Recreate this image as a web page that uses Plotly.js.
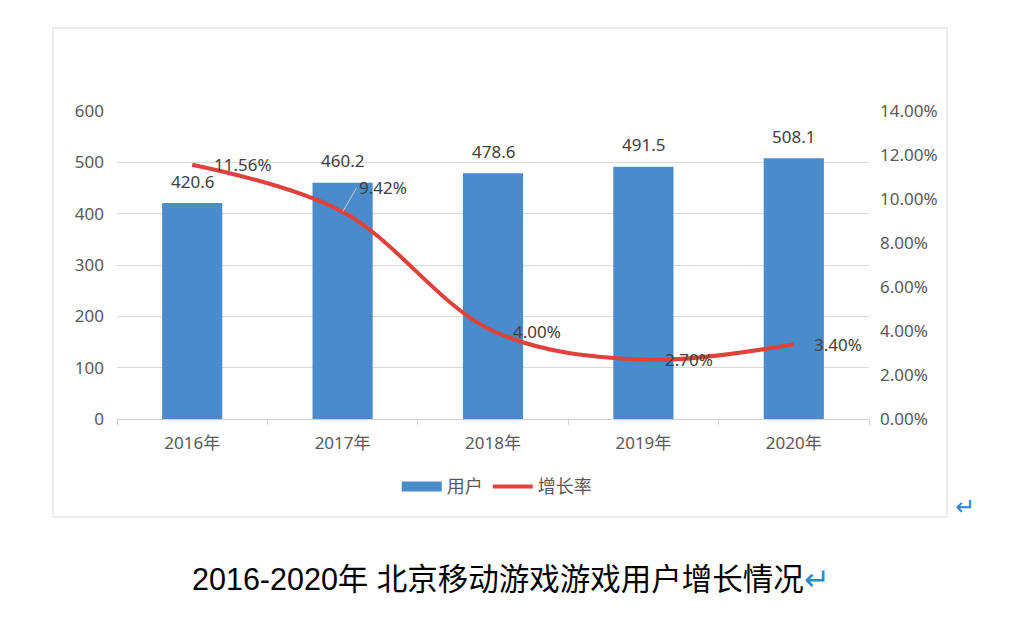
<!DOCTYPE html>
<html>
<head>
<meta charset="utf-8">
<script src="https://cdn.plot.ly/plotly-3.0.1.min.js"></script>
<style>
  body { margin: 0; background: #ffffff; }
  #chart { width: 1010px; height: 618px; }
</style>
</head>
<body>
<div id="chart"></div>
<script>
// 2016-2020 北京移动游戏用户 (百万) 及增长率
const years = ['2016年', '2017年', '2018年', '2019年', '2020年'];
const users = [420.6, 460.2, 478.6, 491.5, 508.1];
const growth = [11.56, 9.42, 4.00, 2.70, 3.40];
const growthLabels = ['11.56%', '9.42%', '4.00%', '2.70%', '3.40%'];
const userLabels = ['420.6', '460.2', '478.6', '491.5', '508.1'];

const barColor = '#4a8bcb';
const lineColor = '#e0413b';
const tickFont = { family: 'Noto Sans, Noto Sans CJK SC, sans-serif', size: 17, color: '#595959' };
const labelFont = { family: 'Noto Sans, sans-serif', size: 17, color: '#404040' };

const barTrace = {
    x: years,
    y: users,
    type: 'bar',
    name: '用户',
    width: 0.4,
    marker: { color: barColor },
    showlegend: false,
    hoverinfo: 'skip'
};

// legend-only entry so the swatch is a wide block like the original
const barLegend = {
    x: [years[0]],
    y: [null],
    type: 'scatter',
    mode: 'lines',
    name: '用户',
    line: { color: barColor, width: 12 },
    hoverinfo: 'skip'
};

const lineTrace = {
    x: years,
    y: growth,
    yaxis: 'y2',
    type: 'scatter',
    mode: 'lines',
    name: '增长率',
    line: { color: lineColor, width: 4, shape: 'spline', smoothing: 1 },
    hoverinfo: 'skip'
};

// value labels above bars
const annotations = years.map((yr, i) => ({
    x: yr, y: users[i], xref: 'x', yref: 'y',
    text: userLabels[i], showarrow: false,
    yanchor: 'middle', yshift: 22,
    font: labelFont
}));

// growth labels, roughly where the original puts them
const gShift = [20, 0, 18, 20, 18];
growth.forEach((g, i) => {
    const a = {
        x: years[i], y: g, xref: 'x', yref: 'y2',
        text: growthLabels[i],
        xanchor: 'left', yanchor: 'middle',
        font: labelFont
    };
    if (i === 1) {
        a.showarrow = true;
        a.arrowhead = 0;
        a.arrowwidth = 1;
        a.arrowcolor = '#c8c8c8';
        a.ax = 14;
        a.ay = -24;
    } else {
        a.showarrow = false;
        a.xshift = gShift[i];
    }
    annotations.push(a);
});

// caption under the frame
annotations.push({
    xref: 'paper', yref: 'paper', x: 0.524, y: -0.52,
    xanchor: 'center', yanchor: 'middle', showarrow: false,
    text: '2016-2020年 北京移动游戏游戏用户增长情况<span style="color:#2e86de">↵</span>',
    font: { family: 'Liberation Sans, Noto Sans CJK SC, sans-serif', size: 30.5, color: '#000000' }
});
annotations.push({
    xref: 'paper', yref: 'paper', x: 1.128, y: -0.285,
    xanchor: 'center', yanchor: 'middle', showarrow: false,
    text: '↵',
    font: { family: 'DejaVu Sans, sans-serif', size: 24, color: '#2e86de' }
});

const layout = {
    width: 1010,
    height: 618,
    margin: { l: 117, r: 141, t: 111, b: 199 },
    paper_bgcolor: '#ffffff',
    plot_bgcolor: '#ffffff',
    showlegend: true,
    legend: {
        orientation: 'h',
        x: 0.505, xanchor: 'center',
        y: -0.22, yanchor: 'middle',
        font: { family: 'Noto Sans CJK SC, sans-serif', size: 18, color: '#595959' },
        itemwidth: 40
    },
    xaxis: {
        type: 'category',
        tickfont: tickFont,
        showline: true,
        linecolor: '#d0d0d0',
        ticks: 'outside',
        tickson: 'boundaries',
        ticklen: 5,
        tickcolor: '#d0d0d0',
        ticklabelstandoff: 9,
        showgrid: false,
        fixedrange: true
    },
    yaxis: {
        range: [0, 600],
        dtick: 100,
        tickfont: tickFont,
        gridcolor: '#d9d9d9',
        zeroline: false,
        showline: false,
        ticklabelstandoff: 12,
        fixedrange: true
    },
    yaxis2: {
        overlaying: 'y',
        side: 'right',
        range: [0, 14],
        dtick: 2,
        tickformat: '.2f',
        ticksuffix: '%',
        tickfont: tickFont,
        showgrid: false,
        zeroline: false,
        showline: false,
        ticklabelstandoff: 10,
        fixedrange: true
    },
    shapes: [{
        type: 'rect', xref: 'paper', yref: 'paper',
        x0: -0.0851, x1: 1.1037, y0: -0.318, y1: 1.2695,
        line: { color: '#d9d9d9', width: 1 },
        fillcolor: 'rgba(0,0,0,0)'
    }],
    annotations: annotations
};

Plotly.newPlot('chart', [barTrace, barLegend, lineTrace], layout, { displayModeBar: false, staticPlot: true });
</script>
</body>
</html>
